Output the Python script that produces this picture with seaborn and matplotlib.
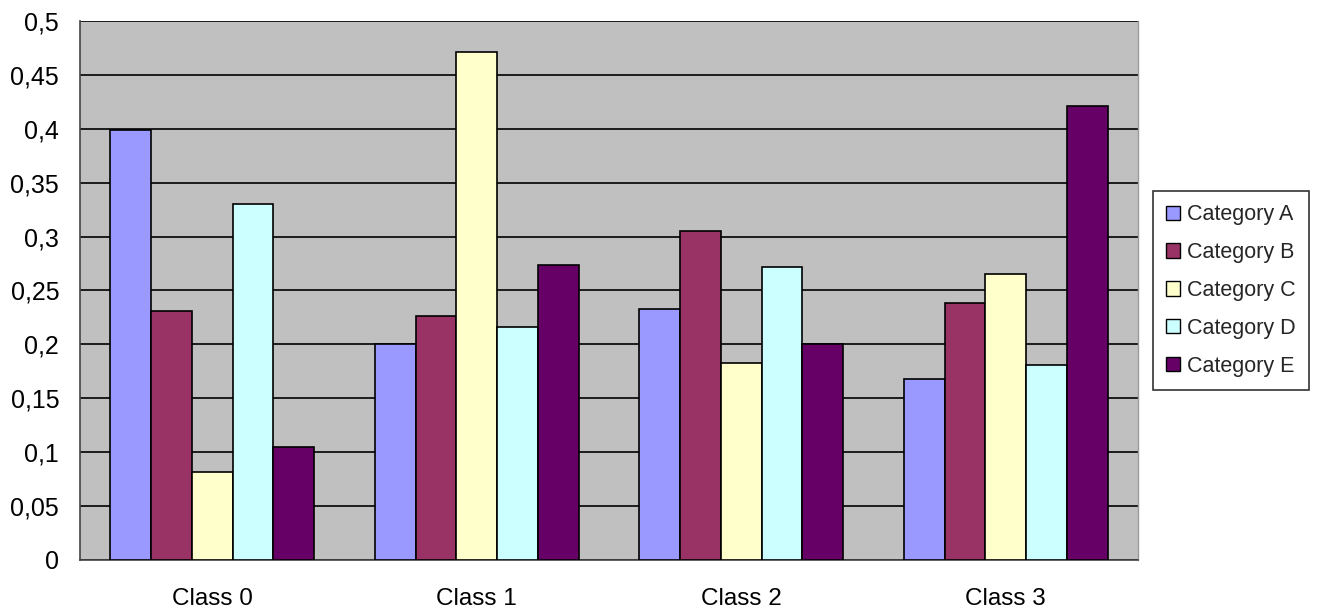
import matplotlib
matplotlib.use("Agg")
import matplotlib.pyplot as plt
import matplotlib.ticker as mticker
import seaborn as sns
import pandas as pd

classes = ["Class 0", "Class 1", "Class 2", "Class 3"]
categories = ["Category A", "Category B", "Category C", "Category D", "Category E"]
cat_a = [0.399, 0.200, 0.233, 0.168]
cat_b = [0.231, 0.226, 0.305, 0.238]
cat_c = [0.082, 0.471, 0.183, 0.265]
cat_d = [0.330, 0.216, 0.272, 0.181]
cat_e = [0.105, 0.274, 0.200, 0.421]
colors = ["#9999FF", "#993366", "#FFFFCC", "#CCFFFF", "#660066"]

series = [cat_a, cat_b, cat_c, cat_d, cat_e]
rows = []
for cat, vals in zip(categories, series):
    for cls, v in zip(classes, vals):
        rows.append({"Class": cls, "Category": cat, "Value": v})
df = pd.DataFrame(rows)

sns.set_theme(style="white")
plt.rcParams["font.family"] = ["Liberation Sans", "DejaVu Sans"]

fig = plt.figure(figsize=(13.18, 6.09), dpi=100)
ax = fig.add_axes([0.0607, 0.0805, 0.8027, 0.885])
ax.set_facecolor("#C0C0C0")

sns.barplot(data=df, x="Class", y="Value", hue="Category", hue_order=categories,
            palette=colors, width=0.77, gap=0, edgecolor="black", linewidth=1.2,
            saturation=1, ax=ax, zorder=3, legend=True)

ax.set_xlim(-0.5, 3.5)
ax.set_ylim(0, 0.5)
ax.yaxis.set_major_locator(mticker.MultipleLocator(0.05))
ax.yaxis.set_major_formatter(mticker.FuncFormatter(
    lambda v, p: ("%g" % round(v, 2)).replace(".", ",")))
ax.grid(axis="y", color="black", linewidth=1.2, zorder=0)
ax.set_axisbelow(True)
ax.set_xlabel("")
ax.set_ylabel("")

# category boundary ticks on the x axis
ax.set_xticks([0, 1, 2, 3])
ax.set_xticklabels(classes)
ax.xaxis.set_minor_locator(mticker.FixedLocator([-0.5, 0.5, 1.5, 2.5, 3.5]))
ax.tick_params(axis="x", which="major", length=0, pad=20, labelsize=17.5, colors="black")
ax.tick_params(axis="x", which="minor", length=6, width=1, color="#444444", direction="out")
ax.tick_params(axis="y", length=6, width=1, color="#444444", direction="out",
               labelsize=18, pad=9, labelcolor="black")

for side in ["left", "bottom"]:
    ax.spines[side].set_color("#444444")
    ax.spines[side].set_linewidth(1.2)
ax.spines["top"].set_visible(False)
ax.spines["right"].set_color("#9a9a9a")
ax.spines["right"].set_linewidth(1)

leg = ax.legend(loc="center left", bbox_to_anchor=(1.014, 0.5), frameon=True,
                fancybox=False, edgecolor="black", fontsize=15.5,
                handlelength=0.65, handleheight=0.65, handletextpad=0.3,
                labelspacing=0.78, borderpad=0.62, borderaxespad=0)
leg.get_frame().set_linewidth(1.2)
for h in leg.legend_handles:
    h.set_edgecolor("black")
    h.set_linewidth(1)

fig.savefig("out.png", dpi=100, facecolor="white")
